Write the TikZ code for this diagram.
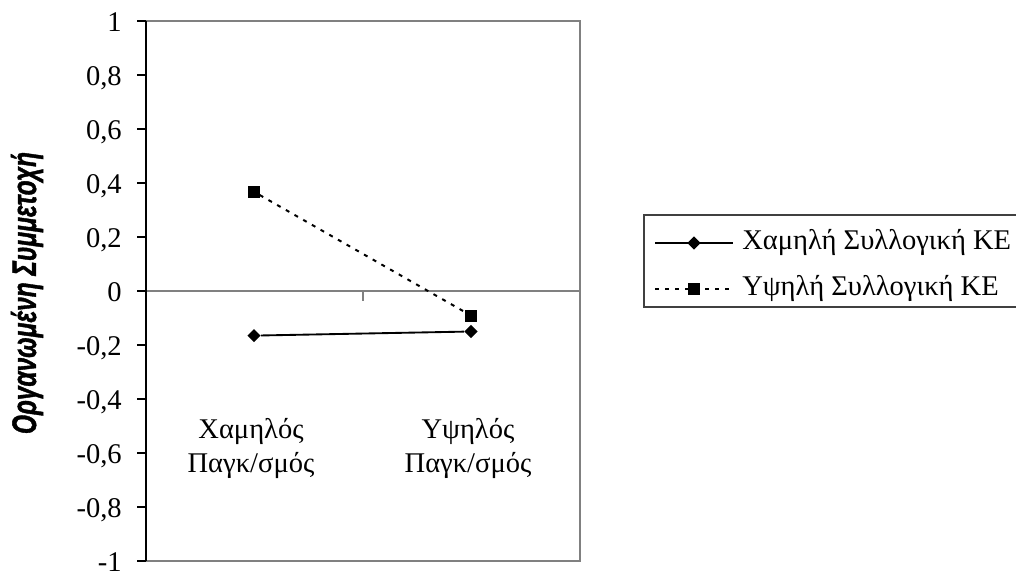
\documentclass[tikz,border=0pt]{standalone}
\usepackage{fontspec}
\setmainfont{Liberation Serif}
\newfontface\titleface{Liberation Sans Bold Italic}[FakeBold=1.5]
\usetikzlibrary{shapes.geometric}
\definecolor{framegrey}{RGB}{128,128,128}
\begin{document}
\begin{tikzpicture}[x=0.75pt,y=-0.75pt,
  lbl/.style={font=\fontsize{21.4}{25.5}\selectfont, inner sep=0pt},
  ytick/.style={lbl, anchor=base east},
  frameline/.style={draw=framegrey, line width=1.5pt},
  axisline/.style={draw=black, line width=1.5pt},
  tickline/.style={draw=black, line width=1.1pt},
  mkdiamond/.style={diamond, fill=black, inner sep=0pt, minimum width=10pt, minimum height=10pt},
  mksquare/.style={rectangle, fill=black, inner sep=0pt, minimum size=9pt},
  loline/.style={line width=1.4pt},
  hiline/.style={line width=1.5pt, dash pattern=on 3pt off 4.5pt}]
\useasboundingbox (0,0) rectangle (1016,571);
% frame
\coordinate (ftl) at (146,21);
\coordinate (fbr) at (580,561);
\draw[frameline] (ftl) rectangle (fbr);
% x axis
\coordinate (x0) at (146,291);
\coordinate (x1) at (580,291);
\coordinate (xm) at (363,291);
\coordinate (xmb) at (363,301);
\coordinate (x1b) at (580,301);
\draw[frameline] (x0) -- (x1);
\draw[frameline] (xm) -- (xmb);
\draw[frameline] (x1) -- (x1b);
% y axis
\coordinate (ytop) at (146,21);
\coordinate (ybot) at (146,561);
\draw[axisline] (ytop) -- (ybot);
\foreach \v/\t [count=\i] in {1/1,0.8/{0,8},0.6/{0,6},0.4/{0,4},0.2/{0,2},0/0,-0.2/{-0,2},-0.4/{-0,4},-0.6/{-0,6},-0.8/{-0,8},-1/-1}{
  \coordinate (ta\i) at (137,{291-270*\v});
  \coordinate (tb\i) at (146,{291-270*\v});
  \draw[tickline] (ta\i) -- (tb\i);
  \node[ytick] (yl\i) at (122,{291-270*\v+10.5}) {\t};
}
% axis title
\node[rotate=90, inner sep=0pt] (ytitle) at (27,293)
  {\scalebox{0.72}[1]{\titleface\fontsize{25.5}{28}\selectfont Οργανωμένη Συμμετοχή}};
% category labels
\node[lbl, anchor=base, align=center] (catlow) at (251,472) {Χαμηλός\\Παγκ/σμός};
\node[lbl, anchor=base, align=center] (cathigh) at (468,472) {Υψηλός\\Παγκ/σμός};
% data
\node[mkdiamond] (lo1) at (254,335.6) {};
\node[mkdiamond] (lo2) at (471,331.5) {};
\draw[loline] (lo1) -- (lo2);
\node[mksquare] (hi1) at (253.5,191.5) {};
\node[mksquare] (hi2) at (471,315.5) {};
\draw[hiline] (hi1) -- (hi2);
% legend
\coordinate (lgtl) at (644,215);
\coordinate (lgbr) at (1030,307);
\draw[line width=1pt, draw=black!75] (lgtl) rectangle (lgbr);
\coordinate (la1) at (655,243);
\coordinate (lb1) at (733,243);
\draw[loline] (la1) -- (lb1);
\node[mkdiamond] (lm1) at (694,243) {};
\node[lbl, anchor=base west] (lt1) at (742,249.5) {Χαμηλή Συλλογική ΚΕ};
\coordinate (la2) at (655,289);
\coordinate (lb2) at (733,289);
\draw[hiline] (la2) -- (lb2);
\node[mksquare] (lm2) at (694,289) {};
\node[lbl, anchor=base west] (lt2) at (742,295.5) {Υψηλή Συλλογική ΚΕ};
\end{tikzpicture}
\end{document}
